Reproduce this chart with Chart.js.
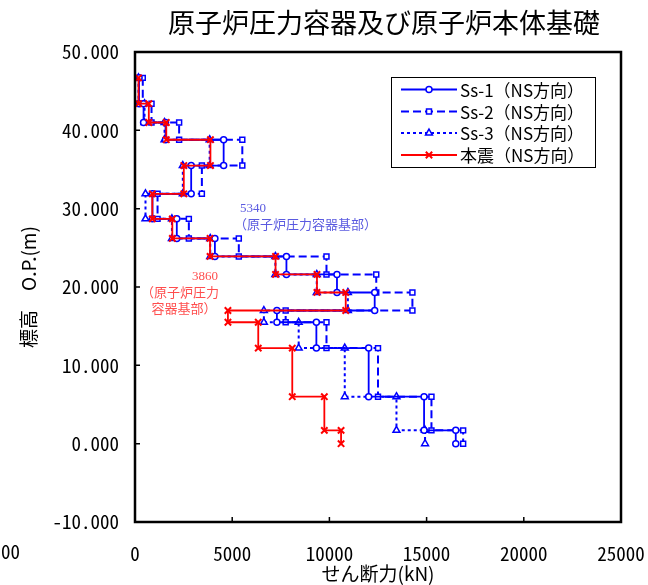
<!DOCTYPE html>
<html lang="ja">
<head>
<meta charset="utf-8">
<title>原子炉圧力容器及び原子炉本体基礎</title>
<script src="https://cdn.jsdelivr.net/npm/chart.js@4.4.1/dist/chart.umd.min.js"></script>
<style>
  html, body { margin: 0; padding: 0; background: #fff; }
  #wrap { width: 648px; height: 585px; }
</style>
</head>
<body>
<div id="wrap"><canvas id="shear" width="648" height="585"></canvas></div>
<script>
// 区間の境界 標高 O.P.(m)（上から）
const levels = [46.7, 43.4, 41.0, 38.8, 35.5, 31.9, 28.7, 26.2, 23.9, 21.6, 19.3, 17.0, 15.5, 12.2, 6.0, 1.7, 0.0];

// 各区間のせん断力 (kN)
const ss1 = [210, 440, 1570, 4560, 2890, 900, 2150, 4110, 7790, 10390, 12330, 7300, 9330, 12020, 14870, 16500];
const ss2 = [400, 850, 2270, 5520, 3440, 1160, 2770, 5340, 9850, 12410, 14270, 7750, 9850, 12500, 15250, 16880];
const ss3 = [180, 490, 1520, 3840, 2460, 540, 1900, 3870, 7220, 9350, 10950, 6630, 8420, 10790, 13450, 14920];
const honshin = [180, 710, 1610, 3880, 2510, 890, 1920, 3860, 7230, 9360, 10840, 4780, 6340, 8090, 9740, 10600];

const seriesNames = ['Ss-1（NS方向）', 'Ss-2（NS方向）', 'Ss-3（NS方向）', '本震（NS方向）'];
const xTicks = [0, 5000, 10000, 15000, 20000, 25000];
const yTicks = [-10, 0, 10, 20, 30, 40, 50];

const tickFont = '"Noto Sans Mono CJK JP", "Noto Sans CJK JP", sans-serif';
const jpFont = '"Noto Sans CJK JP", sans-serif';
const noteFont = '"Liberation Serif", "Noto Sans CJK JP", serif';

// 階段状の折れ線にする
function stepPoints(values) {
  const pts = [];
  values.forEach((v, i) => {
    pts.push({ x: v, y: levels[i] });
    pts.push({ x: v, y: levels[i + 1] });
  });
  return pts;
}

const decor = {
  id: 'decor',
  afterDraw(chart) {
    const { ctx, chartArea: a, scales } = chart;
    ctx.save();

    // 枠
    ctx.strokeStyle = '#000';
    ctx.lineWidth = 2.5;
    ctx.setLineDash([]);
    ctx.strokeRect(a.left, a.top, a.right - a.left, a.bottom - a.top);

    // 内向きの目盛
    ctx.lineWidth = 1.5;
    ctx.beginPath();
    xTicks.slice(1, -1).forEach(v => {
      const px = scales.x.getPixelForValue(v);
      ctx.moveTo(px, a.bottom);
      ctx.lineTo(px, a.bottom - 5);
    });
    yTicks.slice(1, -1).forEach(v => {
      const py = scales.y.getPixelForValue(v);
      ctx.moveTo(a.left, py);
      ctx.lineTo(a.left + 5, py);
    });
    ctx.stroke();

    // タイトル
    ctx.fillStyle = '#000';
    ctx.font = '27px ' + jpFont;
    ctx.textAlign = 'center';
    ctx.textBaseline = 'middle';
    ctx.fillText('原子炉圧力容器及び原子炉本体基礎', 384, 23);

    // 左下のはみ出したラベル
    ctx.font = '19px ' + tickFont;
    ctx.textAlign = 'left';
    ctx.fillText('00', 1, 552);

    // 凡例
    ctx.lineWidth = 1;
    ctx.strokeStyle = '#000';
    ctx.strokeRect(391.5, 77.5, 204, 90);
    const rows = [89.5, 111.5, 133, 155];
    chart.data.datasets.forEach((ds, i) => {
      const y = rows[i];
      ctx.strokeStyle = ds.borderColor;
      ctx.lineWidth = ds.borderWidth;
      ctx.setLineDash(ds.borderDash || []);
      ctx.beginPath();
      ctx.moveTo(401, y);
      ctx.lineTo(457, y);
      ctx.stroke();
      ctx.setLineDash([]);
      ctx.fillStyle = '#fff';
      ctx.lineWidth = ds.pointBorderWidth;
      Chart.helpers.drawPoint(ctx, {
        pointStyle: ds.pointStyle, radius: ds.pointRadius,
        borderWidth: ds.pointBorderWidth, rotation: 0
      }, 429, y);
      ctx.fillStyle = '#000';
      ctx.font = '17px ' + jpFont;
      ctx.textAlign = 'left';
      ctx.textBaseline = 'middle';
      ctx.fillText(seriesNames[i], 460, y + 1);
    });

    // 注記
    ctx.font = '13px ' + noteFont;
    ctx.fillStyle = '#5a5ae0';
    ctx.textAlign = 'left';
    ctx.fillText('5340', 240, 209);
    ctx.fillText('（原子炉圧力容器基部）', 234, 226);
    ctx.fillStyle = '#ff4d4d';
    ctx.textAlign = 'right';
    ctx.fillText('3860', 218, 277);
    ctx.textAlign = 'center';
    ctx.fillText('（原子炉圧力', 180, 294);
    ctx.fillText('容器基部）', 184, 310);

    ctx.restore();
  }
};

const blue = '#0000ff';
const red = '#ff0000';

new Chart(document.getElementById('shear').getContext('2d'), {
  type: 'scatter',
  data: {
    datasets: [
      {
        label: seriesNames[0], data: stepPoints(ss1), showLine: true,
        borderColor: blue, borderWidth: 1.8, borderDash: [],
        pointStyle: 'circle', pointRadius: 3, pointBorderWidth: 1.5,
        pointBorderColor: blue, pointBackgroundColor: '#fff', order: 1
      },
      {
        label: seriesNames[1], data: stepPoints(ss2), showLine: true,
        borderColor: blue, borderWidth: 2, borderDash: [8, 4],
        pointStyle: 'rect', pointRadius: 3.5, pointBorderWidth: 1.5,
        pointBorderColor: blue, pointBackgroundColor: '#fff', order: 1
      },
      {
        label: seriesNames[2], data: stepPoints(ss3), showLine: true,
        borderColor: blue, borderWidth: 2, borderDash: [3, 3],
        pointStyle: 'triangle', pointRadius: 4, pointBorderWidth: 1.5,
        pointBorderColor: blue, pointBackgroundColor: '#fff', order: 1
      },
      {
        label: seriesNames[3], data: stepPoints(honshin), showLine: true,
        borderColor: red, borderWidth: 1.8, borderDash: [],
        pointStyle: 'crossRot', pointRadius: 4.5, pointBorderWidth: 2,
        pointBorderColor: red, pointBackgroundColor: red, order: 0
      }
    ]
  },
  options: {
    responsive: false,
    animation: false,
    layout: { padding: { top: 52, right: 27, bottom: 0, left: 0 } },
    plugins: {
      legend: { display: false },
      tooltip: { enabled: false },
      title: { display: false }
    },
    scales: {
      x: {
        type: 'linear', min: 0, max: 25000,
        afterBuildTicks: s => { s.ticks = xTicks.map(v => ({ value: v })); },
        afterFit: s => { s.height = 63; },
        // 目盛線は描かず、ラベル位置を下げるためだけに tickLength を使う
        grid: { display: false, drawTicks: true, tickLength: 18 },
        border: { display: false },
        ticks: {
          color: '#000', padding: 2, font: { family: tickFont, size: 19 },
          callback: v => String(v)
        },
        title: {
          display: true, text: 'せん断力(kN)', color: '#000',
          padding: { top: 0, bottom: 0 }, font: { family: jpFont, size: 19 }
        }
      },
      y: {
        type: 'linear', min: -10, max: 50,
        afterBuildTicks: s => { s.ticks = yTicks.map(v => ({ value: v })); },
        afterFit: s => { s.width = 135; },
        grid: { display: false, drawTicks: false },
        border: { display: false },
        ticks: {
          color: '#000', padding: 16, font: { family: tickFont, size: 19 },
          callback: v => v.toFixed(3)
        },
        title: {
          display: true, text: '標高　O.P.(m)', color: '#000',
          padding: { top: 17, bottom: 0 }, font: { family: jpFont, size: 19 }
        }
      }
    }
  },
  plugins: [decor]
});
</script>
</body>
</html>
